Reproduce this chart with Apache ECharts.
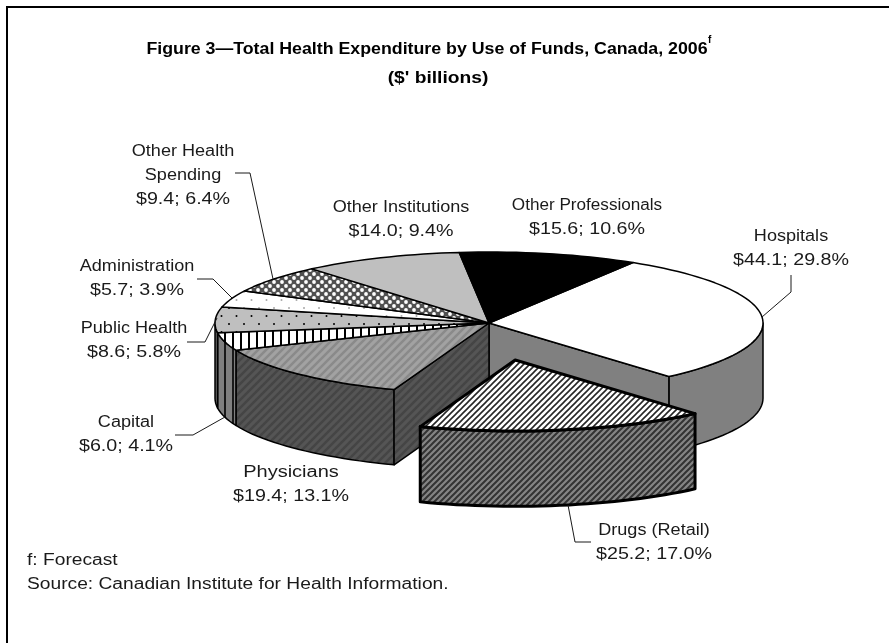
<!DOCTYPE html>
<html>
<head>
<meta charset="utf-8">
<title>Total Health Expenditure by Use of Funds</title>
<style>
  html, body { margin: 0; padding: 0; background: #fff; }
  #chart { width: 889px; height: 643px; }
</style>
<script src="https://cdn.jsdelivr.net/npm/echarts@6/dist/echarts.min.js"></script>
</head>
<body>
<div id="chart"></div>
<script>
// data
const categories = ['Hospitals', 'Drugs (Retail)', 'Physicians', 'Capital', 'Public Health', 'Administration', 'Other Health\nSpending', 'Other Institutions', 'Other Professionals']
const amounts = [44.1, 25.2, 19.4, 6.0, 8.6, 5.7, 9.4, 14.0, 15.6]
const shares = [29.8, 17.0, 13.1, 4.1, 5.8, 3.9, 6.4, 9.4, 10.6]
const titleLines = ['Figure 3\u2014Total Health Expenditure by Use of Funds, Canada, 2006', "($' billions)"]
const footnotes = ['f: Forecast', 'Source: Canadian Institute for Health Information.']

// pie geometry, in axis units (x radius = y radius = 1)
const startAngle = 31.7
const depth = 1.06
const explodedIndex = 1
const explode = 0.53
const total = amounts.reduce((a, b) => a + b, 0)

// label centre + first line y, leader polyline in pixels
const labelLayout = [
  { x: 791, y: 237, leader: [[791, 275], [791, 292], [762, 317]] },
  { x: 654, y: 531, leader: [[568, 505], [575, 542], [591, 542]] },
  { x: 291, y: 473, stretch: 1.25 },
  { x: 126, y: 423, leader: [[175, 435], [193, 435], [225, 417]] },
  { x: 134, y: 329, leader: [[187, 342], [205, 342], [217, 318]] },
  { x: 137, y: 267, leader: [[197, 279], [213, 279], [232, 298]] },
  { x: 183, y: 152, leader: [[235, 173], [250, 173], [273, 279]] },
  { x: 401, y: 208 },
  { x: 587, y: 206, stretch: 1.07 }
]

// hatch tiles
function tile(w, h, draw) {
  const c = document.createElement('canvas')
  c.width = w
  c.height = h
  draw(c.getContext('2d'))
  return { image: c, repeat: 'repeat' }
}
function diagonal(bg, fg, p, lw) {
  return tile(p, p, (ctx) => {
    ctx.fillStyle = bg
    ctx.fillRect(0, 0, p, p)
    ctx.strokeStyle = fg
    ctx.lineWidth = lw
    ctx.beginPath()
    ctx.moveTo(-p, p)
    ctx.lineTo(p, -p)
    ctx.moveTo(0, p)
    ctx.lineTo(p, 0)
    ctx.moveTo(0, 2 * p)
    ctx.lineTo(2 * p, 0)
    ctx.stroke()
  })
}
function dots(bg, fg, w, h, r, pts) {
  return tile(w, h, (ctx) => {
    ctx.fillStyle = bg
    ctx.fillRect(0, 0, w, h)
    ctx.fillStyle = fg
    pts.forEach((p) => {
      ctx.beginPath()
      ctx.arc(p[0], p[1], r, 0, Math.PI * 2)
      ctx.fill()
    })
  })
}
function vertical(bg, fg, p, lw) {
  return tile(p, 4, (ctx) => {
    ctx.fillStyle = bg
    ctx.fillRect(0, 0, p, 4)
    ctx.fillStyle = fg
    ctx.fillRect(0, 0, lw, 4)
  })
}

const topFills = [
  '#ffffff',
  diagonal('#ffffff', '#262626', 6, 1.6),
  diagonal('#a2a2a2', '#8a8a8a', 8, 2.5),
  vertical('#ffffff', '#000000', 8, 2),
  dots('#bfbfbf', '#000000', 15, 16, 1, [[4, 4], [11.5, 12]]),
  dots('#ffffff', '#a8a8a8', 15, 16, 1, [[4, 4], [11.5, 12]]),
  dots('#505050', '#ffffff', 8, 8, 1.9, [[2, 2], [6, 6]]),
  '#bfbfbf',
  '#000000'
]
const wallFills = [
  '#808080',
  diagonal('#858585', '#333333', 6, 2),
  diagonal('#555555', '#454545', 8, 2.5),
  vertical('#808080', '#1a1a1a', 8, 2),
  '#606060',
  '#808080',
  '#606060',
  '#808080',
  '#000000'
]

const rad = (d) => (d * Math.PI) / 180

function textBlock(text, x, y, stretch, z2) {
  return {
    type: 'text',
    z2,
    x,
    y,
    scaleX: stretch,
    style: {
      text,
      fill: '#1a1a1a',
      font: '16px "Liberation Sans"',
      lineHeight: 24,
      align: 'center',
      verticalAlign: 'top'
    }
  }
}

function renderSlice(params, api) {
  const i = params.dataIndex
  const before = amounts.slice(0, i).reduce((a, b) => a + b, 0)
  const a0 = startAngle + (before / total) * 360
  const a1 = a0 + (api.value(1) / total) * 360
  const isOut = i === explodedIndex
  const mid = rad((a0 + a1) / 2)
  const ox = isOut ? explode * Math.sin(mid) : 0
  const oy = isOut ? explode * Math.cos(mid) : 0
  const lineWidth = isOut ? 3 : 1.5
  const base = isOut ? 3 : 1

  const pt = (deg, r, drop) =>
    api.coord([ox + r * Math.sin(rad(deg)), oy + r * Math.cos(rad(deg)) - drop])
  const arc = (from, to, drop) => {
    const n = Math.max(1, Math.ceil((to - from) / 2))
    const out = []
    for (let k = 0; k <= n; k++) out.push(pt(from + ((to - from) * k) / n, 1, drop))
    return out
  }
  const poly = (points, fill, z2) => ({
    type: 'polygon',
    z2,
    shape: { points },
    style: { fill, stroke: '#000', lineWidth, lineJoin: 'round' }
  })

  const children = []

  // outer wall, only the front half shows
  const w0 = Math.max(a0, 90)
  const w1 = Math.min(a1, 270)
  if (w1 > w0) {
    const wall = arc(w0, w1, 0).concat(arc(w0, w1, depth).reverse())
    children.push(poly(wall, wallFills[i], base))
  }
  // the cut faces left open by the pulled out slice
  if (i === explodedIndex - 1) {
    children.push(poly([pt(a1, 0, 0), pt(a1, 1, 0), pt(a1, 1, depth), pt(a1, 0, depth)], wallFills[i], base))
  }
  if (i === explodedIndex + 1) {
    children.push(poly([pt(a0, 0, 0), pt(a0, 1, 0), pt(a0, 1, depth), pt(a0, 0, depth)], wallFills[i], base))
  }
  // top face
  children.push(poly([pt(a0, 0, 0)].concat(arc(a0, a1, 0)), topFills[i], base + 1))

  // leader + label
  const lay = labelLayout[i]
  if (lay.leader) {
    children.push({
      type: 'polyline',
      z2: 5,
      shape: { points: lay.leader },
      style: { fill: null, stroke: '#1a1a1a', lineWidth: 1 }
    })
  }
  const nameLines = categories[i].split('\n').length
  children.push(textBlock(categories[i], lay.x, lay.y - 12, lay.stretch || 1.13, 6))
  children.push(
    textBlock('$' + api.value(1).toFixed(1) + '; ' + shares[i].toFixed(1) + '%', lay.x, lay.y - 12 + nameLines * 24, 1.23, 6)
  )
  return { type: 'group', children }
}

const myChart = echarts.init(document.getElementById('chart'))
myChart.setOption({
  animation: false,
  backgroundColor: '#ffffff',
  // hidden axes: one unit = the pie radius
  grid: { left: 215, top: 252, width: 548, height: 142 },
  xAxis: { type: 'value', min: -1, max: 1, show: false },
  yAxis: { type: 'value', min: -1, max: 1, show: false },
  tooltip: { show: false },
  series: [
    {
      type: 'custom',
      coordinateSystem: 'cartesian2d',
      clip: false,
      silent: true,
      renderItem: renderSlice,
      encode: { x: 0, y: 1 },
      data: amounts.map((v, i) => [i, v])
    }
  ],
  graphic: [
    {
      type: 'polyline',
      shape: { points: [[7, 643], [7, 7], [889, 7]] },
      style: { fill: null, stroke: '#000', lineWidth: 2 }
    },
    {
      type: 'text',
      x: 427,
      y: 42,
      scaleX: 1.11,
      style: { text: titleLines[0], fill: '#000', font: 'bold 16px "Liberation Sans"', align: 'center' }
    },
    {
      type: 'text',
      x: 438,
      y: 71,
      scaleX: 1.2,
      style: { text: titleLines[1], fill: '#000', font: 'bold 16px "Liberation Sans"', align: 'center' }
    },
    {
      type: 'text',
      x: 708,
      y: 35,
      style: { text: 'f', fill: '#000', font: 'bold 10px "Liberation Sans"' }
    },
    {
      type: 'text',
      x: 27,
      y: 549,
      scaleX: 1.2,
      style: {
        text: footnotes.join('\n'),
        fill: '#1a1a1a',
        font: '16px "Liberation Sans"',
        lineHeight: 24
      }
    }
  ]
})

window.addEventListener('resize', () => myChart.resize())
</script>
</body>
</html>
